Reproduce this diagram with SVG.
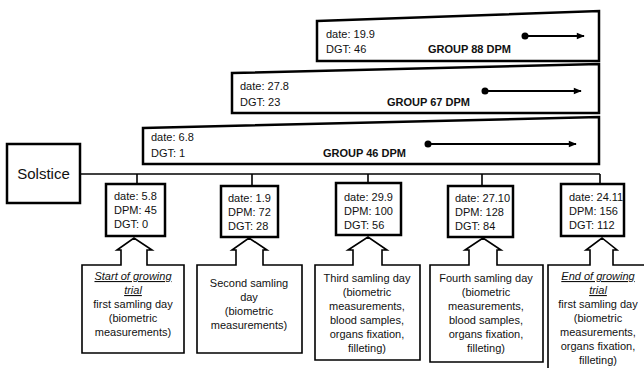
<svg xmlns="http://www.w3.org/2000/svg" width="644" height="368" viewBox="0 0 644 368">
<style>
text{font-family:"Liberation Sans",Arial,sans-serif;font-size:11px;fill:#111}
.b{font-weight:bold}
.c{text-anchor:middle}
.u{font-style:italic;text-decoration:underline}
.grp{fill:#fff;stroke:#000;stroke-width:2.5;stroke-linejoin:miter}
.dbox{fill:#fff;stroke:#000;stroke-width:2.5}
.call{fill:#fff;stroke:#000;stroke-width:1.6;stroke-linejoin:miter}
.ln{stroke:#000;stroke-width:1.6;fill:none}
.arr{stroke:#000;stroke-width:2;fill:none;marker-end:url(#ah)}
.dot{fill:#000}
</style>
<defs>
<marker id="ah" viewBox="0 0 10 10" refX="9" refY="5" markerWidth="9" markerHeight="8" markerUnits="userSpaceOnUse" orient="auto"><path d="M0,1 L10,5 L0,9 z" fill="#000"/></marker>
</defs>

<g id="group88">
<polygon class="grp" points="317,21 599,11 599,61 317,61"/>
<text x="326" y="38">date: 19.9</text>
<text x="326" y="53">DGT: 46</text>
<text class="b" x="428" y="53">GROUP  88 DPM</text>
<line class="arr" x1="525" y1="36" x2="584" y2="36"/>
<circle class="dot" cx="525" cy="36" r="3.5"/>
</g>
<g id="group67">
<polygon class="grp" points="232,73 599,64 599,113 232,113"/>
<text x="240" y="90">date: 27.8</text>
<text x="240" y="106">DGT: 23</text>
<text class="b" x="387" y="106">GROUP 67 DPM</text>
<line class="arr" x1="485" y1="91" x2="581" y2="91"/>
<circle class="dot" cx="485" cy="91" r="3.5"/>
</g>
<g id="group46">
<polygon class="grp" points="143,128 599,117 599,164 143,164"/>
<text x="151" y="141">date: 6.8</text>
<text x="151" y="157">DGT: 1</text>
<text class="b" x="323" y="157">GROUP 46 DPM</text>
<line class="arr" x1="428" y1="144" x2="576" y2="144"/>
<circle class="dot" cx="428" cy="144" r="3.5"/>
</g>

<g id="connectors">
<line class="ln" x1="80" y1="174" x2="600" y2="174"/>
<line class="ln" x1="137" y1="174" x2="137" y2="184"/>
<line class="ln" x1="252" y1="174" x2="252" y2="186"/>
<line class="ln" x1="368" y1="174" x2="368" y2="183"/>
<line class="ln" x1="482" y1="174" x2="482" y2="186"/>
<line class="ln" x1="600" y1="174" x2="600" y2="184"/>
</g>

<g id="solstice">
<rect x="7" y="144" width="73" height="59" fill="#fff" stroke="#000" stroke-width="2.5"/>
<text x="43.5" y="179" class="c" style="font-size:15px">Solstice</text>
</g>

<g id="date1">
<rect class="dbox" x="106" y="184" width="59" height="52"/>
<text x="114" y="200">date: 5.8</text>
<text x="114" y="214">DPM: 45</text>
<text x="114" y="228">DGT: 0</text>
</g>
<g id="date2">
<rect class="dbox" x="221" y="186" width="57" height="51"/>
<text x="228" y="202">date: 1.9</text>
<text x="228" y="216">DPM: 72</text>
<text x="228" y="230">DGT: 28</text>
</g>
<g id="date3">
<rect class="dbox" x="336" y="183" width="65" height="52"/>
<text x="344" y="201">date: 29.9</text>
<text x="344" y="215">DPM: 100</text>
<text x="344" y="229">DGT: 56</text>
</g>
<g id="date4">
<rect class="dbox" x="448" y="186" width="65" height="51"/>
<text x="455" y="202">date: 27.10</text>
<text x="455" y="216">DPM: 128</text>
<text x="455" y="230">DGT: 84</text>
</g>
<g id="date5">
<rect class="dbox" x="561" y="184" width="63" height="52"/>
<text x="569" y="201">date: 24.11</text>
<text x="569" y="215">DPM: 156</text>
<text x="569" y="229">DGT: 112</text>
</g>

<g id="call1">
<path class="call" d="M82,265 H121 V250 H117 L134,238 L152,250 H147 V265 H184 V353 H82 Z"/>
<text class="c u" x="133" y="280">Start of growing</text>
<text class="c u" x="133" y="294">trial</text>
<text class="c" x="133" y="308">first samling day</text>
<text class="c" x="133" y="322">(biometric</text>
<text class="c" x="133" y="336">measurements)</text>
</g>
<g id="call2">
<path class="call" d="M197,265 H236 V250 H232 L249,238 L267,250 H263 V265 H302 V353 H197 Z"/>
<text class="c" x="249" y="287">Second samling</text>
<text class="c" x="249" y="301">day</text>
<text class="c" x="249" y="315">(biometric</text>
<text class="c" x="249" y="329">measurements)</text>
</g>
<g id="call3">
<path class="call" d="M315,265 H353 V250 H348 L368,237 L387,250 H382 V265 H420 V360 H315 Z"/>
<text class="c" x="367" y="282">Third samling day</text>
<text class="c" x="367" y="296">(biometric</text>
<text class="c" x="367" y="310">measurements,</text>
<text class="c" x="367" y="324">blood samples,</text>
<text class="c" x="367" y="338">organs fixation,</text>
<text class="c" x="367" y="352">filleting)</text>
</g>
<g id="call4">
<path class="call" d="M430,265 H469 V250 H465 L483,238 L501,250 H497 V265 H543 V362 H430 Z"/>
<text class="c" x="486" y="282">Fourth samling day</text>
<text class="c" x="486" y="296">(biometric</text>
<text class="c" x="486" y="310">measurements,</text>
<text class="c" x="486" y="324">blood samples,</text>
<text class="c" x="486" y="338">organs fixation,</text>
<text class="c" x="486" y="352">filleting)</text>
</g>
<g id="call5">
<path class="call" d="M548,380 V265 H590 V250 H586 L602,238 L617,250 H613 V265 H655 V380"/>
<text class="c u" x="598" y="280">End of growing</text>
<text class="c u" x="598" y="294">trial</text>
<text class="c" x="598" y="308">first samling day</text>
<text class="c" x="598" y="322">(biometric</text>
<text class="c" x="598" y="336">measurements,</text>
<text class="c" x="598" y="350">organs fixation,</text>
<text class="c" x="598" y="364">filleting)</text>
</g>
</svg>
